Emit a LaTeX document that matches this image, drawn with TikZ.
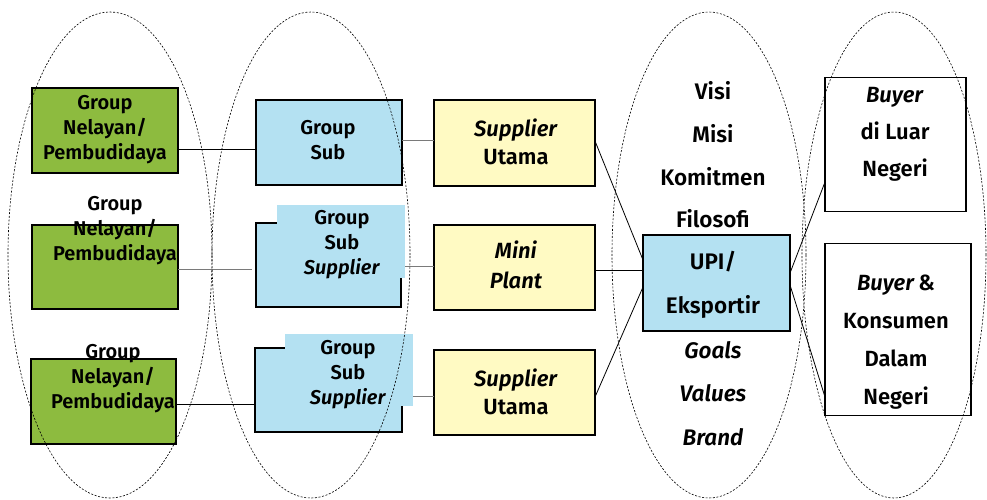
\documentclass[tikz,border=0pt]{standalone}
\usepackage{fontspec}
\setmainfont{Fira Sans}[UprightFont=* SemiBold, ItalicFont=* SemiBold Italic]
\definecolor{grn}{HTML}{8DBB3F}
\definecolor{sky}{HTML}{B4E1F2}
\definecolor{ylw}{HTML}{FFFAC3}
\definecolor{lnk}{HTML}{7A7A7A}
\begin{document}
\begin{tikzpicture}[x=1pt,y=-1pt,
  oval/.style={draw, dash pattern=on 2pt off 1.6pt, line width=0.6pt},
  box/.style={draw, line width=1.6pt, inner sep=0pt, outer sep=0pt},
  gbox/.style={box, fill=grn},
  bbox/.style={box, fill=sky},
  ybox/.style={box, fill=ylw},
  wbox/.style={box, fill=white},
  patch/.style={fill=sky, inner sep=0pt, outer sep=0pt},
  lbl/.style={align=center, inner sep=0pt, font=\fontsize{20}{25}\selectfont},
  link/.style={line width=0.8pt},
  glink/.style={line width=0.9pt, draw=lnk},
]
\useasboundingbox (0,0) rectangle (987,499);

% ---- boxes ----
\node[gbox, minimum width=146pt, minimum height=85pt] (g1) at (105,130.5) {};
\node[gbox, minimum width=146pt, minimum height=84pt] (g2) at (105,267) {};
\node[gbox, minimum width=145pt, minimum height=85pt] (g3) at (103.5,401.5) {};

\node[bbox, minimum width=146pt, minimum height=85pt] (b1) at (329,142.5) {};
\node[bbox, minimum width=145pt, minimum height=84pt] (b2) at (328.5,265) {};
\node[patch, minimum width=128pt, minimum height=73pt] (b2t) at (341,241.5) {};
\node[bbox, minimum width=147pt, minimum height=84pt] (b3) at (328.5,390) {};
\node[patch, minimum width=128pt, minimum height=72pt] (b3t) at (349,370) {};

\node[ybox, minimum width=161pt, minimum height=86pt] (y1) at (514.5,143) {};
\node[ybox, minimum width=161pt, minimum height=85pt] (y2) at (514.5,267.5) {};
\node[ybox, minimum width=161pt, minimum height=85pt] (y3) at (514.5,392.5) {};

\node[bbox, minimum width=147pt, minimum height=96pt] (upi) at (716.5,283) {};

\node[wbox, minimum width=141pt, minimum height=134pt] (w1) at (895.5,144.5) {};
\node[wbox, minimum width=146pt, minimum height=172pt] (w2) at (898,329.5) {};

% ---- labels ----
\node[lbl] (tg1) at (105,130) {Group\\Nelayan/\\Pembudidaya};
\node[lbl] (tg2) at (115,231) {Group\\Nelayan/\\Pembudidaya};
\node[lbl] (tg3) at (113,379) {Group\\Nelayan/\\Pembudidaya};

\node[lbl] (tb1) at (328,140.5) {Group\\Sub};
\node[lbl] (tb2) at (342,245) {Group\\Sub\\\textit{Supplier}};
\node[lbl] (tb3) at (348,375) {Group\\Sub\\\textit{Supplier}};

\node[lbl, font=\fontsize{22}{28}\selectfont] (ty1) at (516,141.5) {\textit{Supplier}\\Utama};
\node[lbl, font=\fontsize{22}{30}\selectfont] (ty2) at (516,265) {\textit{Mini}\\\textit{Plant}};
\node[lbl, font=\fontsize{22}{28}\selectfont] (ty3) at (516,392) {\textit{Supplier}\\Utama};

\node[lbl, font=\fontsize{22.5}{44}\selectfont] (tupi) at (713,285) {UPI/\\Eksportir};

\node[lbl, font=\fontsize{22.5}{42.7}\selectfont] (tv) at (713,155) {Visi\\Misi\\Komitmen\\Filosofi};
\node[lbl, font=\fontsize{22.5}{43.5}\selectfont] (tg) at (713,393.5) {\textit{Goals}\\\textit{Values}\\\textit{Brand}};

\node[lbl, font=\fontsize{22}{37}\selectfont] (tw1) at (895,134) {\textit{Buyer}\\di Luar\\Negeri};
\node[lbl, font=\fontsize{22}{38}\selectfont] (tw2) at (896,342) {\textit{Buyer}\,\&\\Konsumen\\Dalam\\Negeri};

% ---- connectors ----
\draw[link]  (g1.east |- 0,149) -- (b1.west |- 0,149);
\draw[glink, shorten >=4pt] (g2.east |- 0,269) -- (b2.west |- 0,269);
\draw[link]  (g3.east |- 0,404) -- (b3.west |- 0,404);

\draw[glink] (b1.east |- 0,140) -- (y1.west |- 0,140);
\draw[glink] (b2t.east |- 0,266) -- (y2.west |- 0,266);
\draw[glink] (b3t.east |- 0,396) -- (y3.west |- 0,396);

\draw[link] (y1.east |- 0,141) -- (upi.west |- 0,260);
\draw[link] (y2.east |- 0,270) -- (upi.west |- 0,270);
\draw[link] (y3.east |- 0,397) -- (upi.west |- 0,287);

\draw[link] (upi.east |- 0,273) -- (w1.west |- 0,182);
\draw[link] (upi.east |- 0,285) -- (w2.west |- 0,397);

% ---- dashed groupings ----
\draw[oval] (110,255) ellipse [x radius=102pt, y radius=243pt];
\draw[oval] (311,255) ellipse [x radius=99pt, y radius=243pt];
\draw[oval] (709,255) ellipse [x radius=97pt, y radius=243pt];
\draw[oval] (894,255) ellipse [x radius=92pt, y radius=243pt];
\end{tikzpicture}
\end{document}
